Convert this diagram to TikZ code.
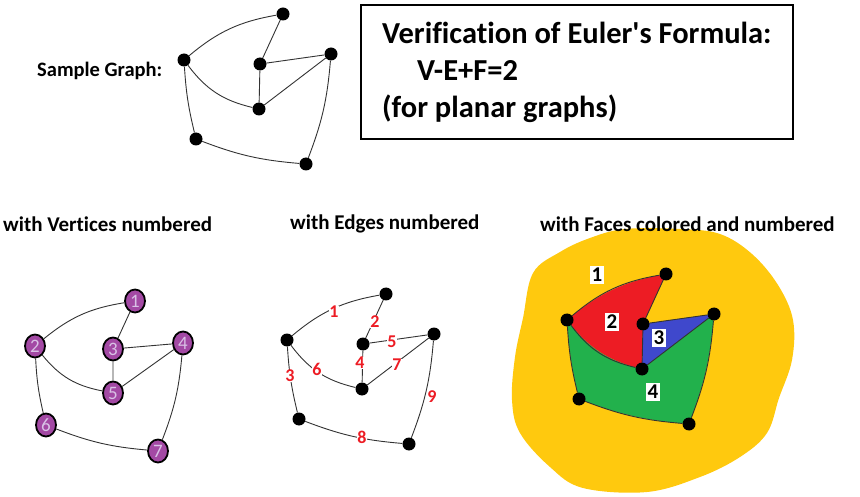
\documentclass[tikz,border=0pt]{standalone}
\usepackage{fontspec}
\setmainfont{Carlito}[Ligatures={TeXOff,NoCommon}]
\usetikzlibrary{positioning, calc, shapes.geometric}
\pgfdeclarelayer{background}
\pgfsetlayers{background,main}
\definecolor{faceyellow}{HTML}{FFC90E}
\definecolor{facered}{HTML}{ED1C24}
\definecolor{faceblue}{HTML}{3F48CC}
\definecolor{facegreen}{HTML}{22B14C}
\definecolor{vpurple}{HTML}{A349A4}
\definecolor{vdigit}{HTML}{D9C2E6}

\begin{document}
\begin{tikzpicture}[x=1pt, y=-1pt]
  \tikzstyle{dot} = [circle, fill=black, inner sep=0pt, minimum size=13pt]
  \tikzstyle{vtx} = [ellipse, draw=black, line width=1.8pt, fill=vpurple, inner sep=0pt,
                     minimum width=20pt, minimum height=23pt, text=vdigit,
                     font=\fontsize{19}{19}\selectfont]
  \tikzstyle{edge} = [draw=black!80, line width=0.9pt]
  \tikzstyle{elab} = [fill=white, inner sep=0.5pt, text=facered,
                      font=\fontsize{18}{18}\selectfont\bfseries]
  \tikzstyle{flab} = [fill=white, inner sep=2pt, font=\fontsize{21}{21}\selectfont\bfseries]
  \tikzstyle{caption} = [anchor=west, inner sep=0pt, font=\fontsize{21}{21}\selectfont\bfseries]

  \useasboundingbox (0,0) rectangle (860,497);

  \foreach \g/\sx/\sy in {s/184/60, e/287/340, f/567/320}{
    \begin{scope}[shift={(\sx,\sy)}]
      \node[dot] (\g-t) at (99,-46) {};
      \node[dot] (\g-l) at (0,0) {};
      \node[dot] (\g-i) at (76,4) {};
      \node[dot] (\g-r) at (147,-6) {};
      \node[dot] (\g-c) at (75,49) {};
      \node[dot] (\g-b) at (12,79) {};
      \node[dot] (\g-d) at (122,104) {};
    \end{scope}
  }
  \begin{scope}[shift={(35,346)}]
    \node[vtx] (v-t) at (100,-45) {1};
    \node[vtx] (v-l) at (0,0) {2};
    \node[vtx] (v-i) at (78,3) {3};
    \node[vtx] (v-r) at (148,-3) {4};
    \node[vtx] (v-c) at (78,47) {5};
    \node[vtx] (v-b) at (11,79) {6};
    \node[vtx] (v-d) at (123,105) {7};
  \end{scope}

  \begin{pgfonlayer}{background}
    \fill[faceyellow] plot[smooth cycle, tension=0.6] coordinates {
      (533,273) (560,252) (590,238) (625,229) (680,229) (720,234) (752,254)
      (778,285) (793,320) (792,360) (779,398) (767,433) (740,457) (700,477)
      (647,492) (583,488) (550,467) (520,433) (512,400) (515,357) (523,318)};
    \fill[facered] (f-l.center) to[bend left=15] (f-t.center) -- (f-i.center)
      -- (f-c.center) to[bend left=20] (f-l.center) -- cycle;
    \fill[faceblue] (f-i.center) -- (f-r.center) -- (f-c.center) -- cycle;
    \fill[facegreen] (f-l.center) to[bend right=20] (f-c.center) -- (f-r.center)
      to[bend left=8] (f-d.center) to[bend left=8] (f-b.center)
      to[bend left=5] (f-l.center) -- cycle;
  \end{pgfonlayer}

  \foreach \g in {s,v,e,f}{
    \draw[edge] (\g-l) to[bend left=15] (\g-t)
      (\g-t) -- (\g-i)
      (\g-i) -- (\g-r)
      (\g-l) to[bend right=20] (\g-c)
      (\g-i) -- (\g-c)
      (\g-r) -- (\g-c)
      (\g-l) to[bend right=5] (\g-b)
      (\g-b) to[bend right=8] (\g-d)
      (\g-r) to[bend left=8] (\g-d);
  }

  \node[elab] (e1) at (334,312) {1};
  \node[elab] (e2) at (375,322) {2};
  \node[elab] (e3) at (290,376) {3};
  \node[elab] (e4) at (360,363) {4};
  \node[elab] (e5) at (392,342) {5};
  \node[elab] (e6) at (317,369) {6};
  \node[elab] (e7) at (397,365) {7};
  \node[elab] (e8) at (362,437) {8};
  \node[elab] (e9) at (432,397) {9};

  \node[flab] (f1) at (597,275) {1};
  \node[flab] (f2) at (612,322) {2};
  \node[flab] (f3) at (659,338) {3};
  \node[flab] (f4) at (653,392) {4};

  \node[caption, font=\fontsize{20.5}{20.5}\selectfont\bfseries] (sample) at (37,71) {Sample Graph:};
  \node[caption] (capv) at (3,224) {with Vertices numbered};
  \node[caption] (cape) at (290,224) {with Edges numbered};
  \node[caption] (capf) at (540,224) {with Faces colored and numbered};

  \node (formula) [draw, line width=1.8pt, anchor=north west, minimum width=432pt,
                   minimum height=134pt, align=left,
                   font=\fontsize{30.5}{37}\selectfont\bfseries] at (360,4)
    {Verification of Euler's Formula:\\\hspace*{35pt}V-E+F=2\\(for planar graphs)};
\end{tikzpicture}
\end{document}
